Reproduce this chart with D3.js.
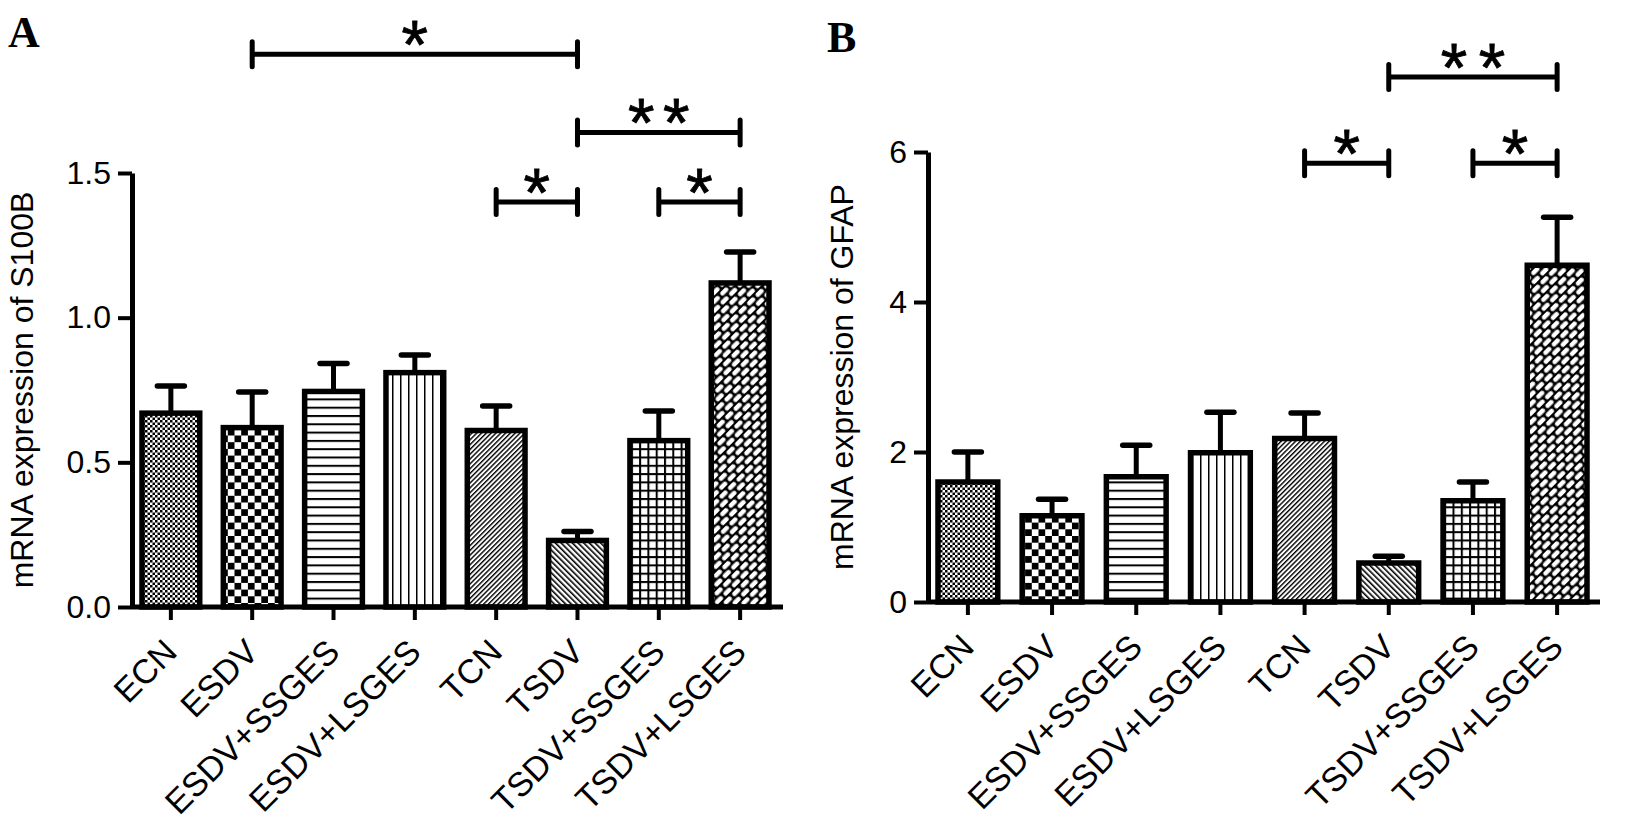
<!DOCTYPE html>
<html>
<head>
<meta charset="utf-8">
<script src="https://cdn.jsdelivr.net/npm/d3@7"></script>
<style>
body { margin: 0; background: #fff; }
svg { display: block; }
text { font-family: "Liberation Sans", Arial, sans-serif; fill: #000; }
</style>
</head>
<body>
<svg id="fig" width="1626" height="822"></svg>
<script>
// groups on the x axis, same for both panels
const groups = ['ECN', 'ESDV', 'ESDV+SSGES', 'ESDV+LSGES', 'TCN', 'TSDV', 'TSDV+SSGES', 'TSDV+LSGES'];
const groupPatterns = ['dots', 'checker', 'hlines', 'vlines', 'diagUp', 'diagDown', 'grid', 'weave'];

// panel A: S100B
const s100bMean = [0.67, 0.62, 0.745, 0.81, 0.61, 0.23, 0.575, 1.12];
const s100bSem = [0.094, 0.123, 0.097, 0.061, 0.085, 0.031, 0.102, 0.107];
const s100bTicks = [0, 0.5, 1.0, 1.5];
// [from group, to group, height, stars]
const s100bSig = [[1, 5, 1.91, 1], [5, 7, 1.64, 2], [4, 5, 1.40, 1], [6, 7, 1.40, 1]];

// panel B: GFAP
const gfapMean = [1.60, 1.15, 1.67, 1.99, 2.18, 0.52, 1.35, 4.49];
const gfapSem = [0.40, 0.22, 0.42, 0.54, 0.34, 0.09, 0.25, 0.64];
const gfapTicks = [0, 2, 4, 6];
const gfapSig = [[5, 7, 7.0, 2], [4, 5, 5.85, 1], [6, 7, 5.85, 1]];

const panels = [
  {letter: 'A', letterX: 8, letterY: 47, axisX: 132, baseY: 607, topY: 173, barL: 142, barR: 769, axisR: 783,
   titleX: 33, title: 'mRNA expression of S100B', mean: s100bMean, sem: s100bSem, ticks: s100bTicks,
   fmt: d3.format('.1f'), sig: s100bSig, starGap: 35},
  {letter: 'B', letterX: 827, letterY: 52, axisX: 928, baseY: 602, topY: 152, barL: 938, barR: 1587, axisR: 1600,
   titleX: 853, title: 'mRNA expression of GFAP', mean: gfapMean, sem: gfapSem, ticks: gfapTicks,
   fmt: d3.format('d'), sig: gfapSig, starGap: 38}
];

const svg = d3.select('#fig');
const defs = svg.append('defs');

function pattern(id, w, h, bg, draw, transform) {
  const p = defs.append('pattern').attr('id', id)
    .attr('patternUnits', 'userSpaceOnUse').attr('width', w).attr('height', h);
  if (transform) p.attr('patternTransform', transform);
  p.append('rect').attr('width', w).attr('height', h).attr('fill', bg);
  draw(p);
}
const box = (p, x, y, w, h, c) => p.append('rect').attr('x', x).attr('y', y).attr('width', w).attr('height', h).attr('fill', c);

pattern('dots', 5, 5, '#fff', p => { box(p, 0, 0, 2.5, 2.5, '#000'); box(p, 2.5, 2.5, 2.5, 2.5, '#000'); });
pattern('checker', 13.4, 13.4, '#fff', p => { box(p, 0, 0, 6.7, 6.7, '#000'); box(p, 6.7, 6.7, 6.7, 6.7, '#000'); });
pattern('hlines', 10, 8.3, '#fff', p => box(p, 0, 0, 10, 2, '#000'));
pattern('vlines', 8, 10, '#fff', p => box(p, 0, 0, 1.5, 10, '#000'));
pattern('diagUp', 3.4, 10, '#fff', p => box(p, 0, 0, 1.4, 10, '#000'), 'rotate(45)');
pattern('diagDown', 4, 10, '#fff', p => box(p, 0, 0, 1.6, 10, '#000'), 'rotate(-45)');
pattern('grid', 8.3, 8.3, '#fff', p => { box(p, 0, 0, 8.3, 2, '#000'); box(p, 0, 0, 2, 8.3, '#000'); });
// white slanted dashes on black, rows staggered (tile drawn along the "/" direction)
pattern('weave', 12, 13, '#000', p => {
  box(p, 1.2, 1.1, 9.6, 4.5, '#fff').attr('rx', 2.2);
  box(p, 7.2, 7.6, 9.6, 4.5, '#fff').attr('rx', 2.2);
  box(p, -4.8, 7.6, 9.6, 4.5, '#fff').attr('rx', 2.2);
}, 'rotate(-45)');

panels.forEach(P => {
  const g = svg.append('g');
  const x = d3.scaleBand().domain(groups).range([P.barL, P.barR]).paddingInner(0.29).paddingOuter(0);
  const y = d3.scaleLinear().domain([0, d3.max(P.ticks)]).range([P.baseY, P.topY]);
  const cx = d => x(d) + x.bandwidth() / 2;

  // bars
  g.append('g').selectAll('rect').data(groups).join('rect')
    .attr('x', d => x(d)).attr('width', x.bandwidth())
    .attr('y', (d, i) => y(P.mean[i])).attr('height', (d, i) => y(0) - y(P.mean[i]))
    .attr('fill', (d, i) => `url(#${groupPatterns[i]})`)
    .attr('stroke', '#000').attr('stroke-width', 5.5);

  // error bars (upper only)
  const eb = g.append('g').attr('stroke', '#000');
  eb.selectAll('line.v').data(groups).join('line').attr('class', 'v')
    .attr('x1', cx).attr('x2', cx)
    .attr('y1', (d, i) => y(P.mean[i])).attr('y2', (d, i) => y(P.mean[i] + P.sem[i]))
    .attr('stroke-width', 5);
  eb.selectAll('line.cap').data(groups).join('line').attr('class', 'cap')
    .attr('x1', d => cx(d) - 13.5).attr('x2', d => cx(d) + 13.5)
    .attr('y1', (d, i) => y(P.mean[i] + P.sem[i])).attr('y2', (d, i) => y(P.mean[i] + P.sem[i]))
    .attr('stroke-width', 5.5).attr('stroke-linecap', 'round');

  // y axis
  const ya = g.append('g').attr('transform', `translate(${P.axisX},0)`)
    .call(d3.axisLeft(y).tickValues(P.ticks).tickFormat(P.fmt).tickSize(14).tickPadding(7).tickSizeOuter(0));
  ya.select('.domain').attr('stroke-width', 5);
  ya.selectAll('.tick line').attr('stroke-width', 4);
  ya.selectAll('.tick text').attr('font-size', 32).attr('font-family', '"Liberation Sans", Arial, sans-serif');

  // x axis
  const xa = g.append('g').attr('transform', `translate(0,${P.baseY})`)
    .call(d3.axisBottom(x).tickSize(13).tickSizeOuter(0));
  xa.select('.domain').remove();
  xa.append('line').attr('x1', P.axisX).attr('x2', P.axisR).attr('stroke', '#000').attr('stroke-width', 5);
  xa.selectAll('.tick line').attr('stroke-width', 4);
  xa.selectAll('.tick text')
    .attr('font-size', 34).attr('font-family', '"Liberation Sans", Arial, sans-serif')
    .attr('text-anchor', 'end').attr('y', 0).attr('dy', 0)
    .attr('transform', 'translate(8,47) rotate(-45)');

  // axis title
  g.append('text')
    .attr('transform', `translate(${P.titleX},${(P.baseY + P.topY) / 2}) rotate(-90)`)
    .attr('text-anchor', 'middle').attr('font-size', 32).text(P.title);

  // panel letter
  g.append('text').attr('x', P.letterX).attr('y', P.letterY)
    .style('font-family', '"Liberation Serif", "Times New Roman", serif')
    .attr('font-weight', 'bold').attr('font-size', 44).text(P.letter);

  // significance brackets
  const sg = g.append('g');
  P.sig.forEach(([a, b, at, n]) => {
    const xa0 = cx(groups[a]), xb0 = cx(groups[b]), yy = y(at);
    sg.append('path')
      .attr('d', `M${xa0},${yy - 12.5}V${yy + 12.5}M${xa0},${yy}H${xb0}M${xb0},${yy - 12.5}V${yy + 12.5}`)
      .attr('fill', 'none').attr('stroke', '#000').attr('stroke-width', 5).attr('stroke-linecap', 'round');
    const mid = (xa0 + xb0) / 2;
    d3.range(n).forEach(k => {
      sg.append('text').attr('x', mid + (k - (n - 1) / 2) * P.starGap).attr('y', yy + 14)
        .attr('text-anchor', 'middle').attr('font-size', 68)
        .attr('stroke', '#000').attr('stroke-width', 0.8).text('*');
    });
  });
});
</script>
</body>
</html>
